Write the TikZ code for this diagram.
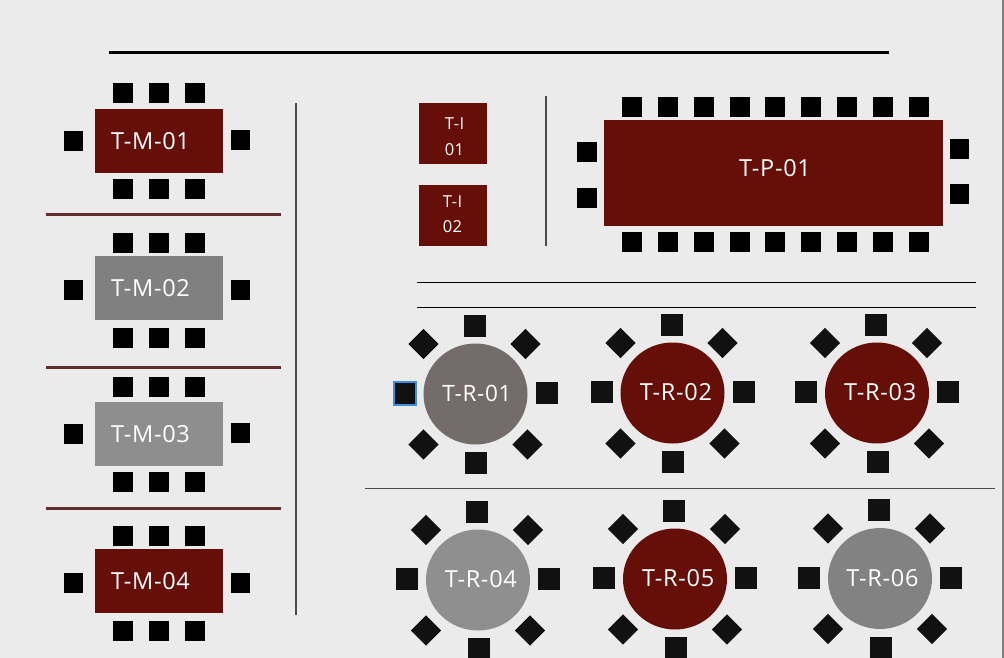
\documentclass[tikz,border=0pt]{standalone}
\usepackage{fontspec}
\setmainfont[LetterSpace=3]{Open Sans}
\usetikzlibrary{shapes.geometric}
\definecolor{bgc}{HTML}{EBEBEB}
\definecolor{wine}{HTML}{660F09}
\definecolor{sep}{HTML}{5F2E2E}
\definecolor{seatc}{HTML}{111111}
\definecolor{selc}{HTML}{3F8FE0}
\definecolor{greyA}{HTML}{808080}
\definecolor{greyB}{HTML}{8E8E8E}
\definecolor{greyC}{HTML}{736C6B}
\definecolor{greyD}{HTML}{8F8F8F}
\definecolor{greyE}{HTML}{828282}
\tikzset{
  x=1pt,y=-1pt,
  seat/.style={fill=black,draw=none,minimum width=19.5pt,minimum height=20pt,inner sep=0pt,outer sep=0pt},
  rseat/.style={fill=seatc,draw=none,minimum width=22pt,minimum height=22pt,inner sep=0pt,outer sep=0pt},
  dseat/.style={rseat,minimum width=21.5pt,minimum height=21.5pt,rotate=45},
  tbl/.style={draw=none,inner sep=0pt,outer sep=0pt,text=white},
  lbl/.style={text=white,font=\fontsize{23.5}{23.5}\selectfont,inner sep=0pt},
  slbl/.style={text=white,font=\fontsize{16.5}{16.5}\selectfont,inner sep=0pt},
  rline/.style={line width=3pt,draw=sep},
  vline/.style={line width=1.2pt,draw=black!70},
  hline/.style={line width=1pt,draw=black},
}
\newcommand{\rtable}[7]{% id, y top, colour, left seat y, right seat y, top seat y, bottom seat y
  \node[tbl,fill=#3,minimum width=128.5pt,minimum height=64pt] (tm#1) at (159,#2+32) {};
  \node[lbl] (tml#1) at (150.5,#2+32) {T-M-0#1};
  \foreach \sx/\sn in {123.2/a,159/b,195.2/c}{
    \node[seat] (s#1t\sn) at (\sx,#6) {};
    \node[seat] (s#1b\sn) at (\sx,#7) {};
  }
  \node[seat] (s#1l) at (73.5,#4) {};
  \node[seat] (s#1r) at (240.5,#5) {};
}
\newcommand{\rnd}[6]{% id, cx, cy, colour, label font size, label x offset
  \node[tbl,fill=#4,ellipse,minimum width=104pt,minimum height=101pt] (tr#1) at (#2,#3) {};
  \node[lbl,font=\fontsize{#5}{#5}\selectfont] (trl#1) at (#2+#6,#3-.5) {T-R-0#1};
  \node[rseat] (r#1t) at (#2-1,#3-68.5) {};
  \node[rseat] (r#1b) at (#2+.5,#3+69) {};
  \node[rseat] (r#1l) at (#2-71,#3-1) {};
  \node[rseat] (r#1r) at (#2+71,#3-1) {};
  \node[dseat] (r#1tl) at (#2-52,#3-50) {};
  \node[dseat] (r#1tr) at (#2+50,#3-50) {};
  \node[dseat] (r#1bl) at (#2-52,#3+50.5) {};
  \node[dseat] (r#1br) at (#2+52,#3+50.5) {};
}
\begin{document}
\begin{tikzpicture}
\useasboundingbox (0,0) rectangle (1004,658);
\fill[bgc] (0,0) rectangle (1004,658);
\fill[black!50] (1002,0) rectangle (1004,658);
% separators
\coordinate (ta) at (109,52.5); \coordinate (tb) at (889,52.5);
\draw[line width=3pt,black] (ta) -- (tb);
\foreach \yy in {214.5,367.5,508}{
  \draw[rline] (46,\yy) -- (281,\yy);
}
\draw[vline] (296,103) -- (296,615);
\draw[vline] (546,96) -- (546,246);
\draw[hline] (417,282.5) -- (976,282.5);
\draw[hline] (417,307.5) -- (976,307.5);
\draw[vline] (365,488.5) -- (995,488.5);
% rectangular tables
\rtable{1}{109}{wine}{141}{140}{93.3}{188.7}
\rtable{2}{256}{greyA}{290}{289.5}{243}{338}
\rtable{3}{402}{greyB}{434}{433}{387}{482}
\rtable{4}{549}{wine}{583}{582.5}{536}{631}
% small tables
\node[tbl,fill=wine,minimum width=68pt,minimum height=61pt] (ti1) at (453,134) {};
\node[slbl] (ti1a) at (454.5,124) {T-I};
\node[slbl] (ti1b) at (454.5,150) {01};
\node[tbl,fill=wine,minimum width=68pt,minimum height=61pt] (ti2) at (453,215.5) {};
\node[slbl] (ti2a) at (452.5,202) {T-I};
\node[slbl] (ti2b) at (452.5,227) {02};
% big table
\node[tbl,fill=wine,minimum width=339pt,minimum height=106pt] (tp) at (773.5,173) {};
\node[lbl] (tpl) at (775,168) {T-P-01};
\foreach \sx [count=\i] in {632,668,704,740,775,811,847,883,919}{
  \node[seat] (pt\i) at (\sx,107) {};
  \node[seat] (pb\i) at (\sx,242) {};
}
\node[seat] (pl1) at (587,152) {};
\node[seat] (pl2) at (587,198) {};
\node[seat] (pr1) at (959.5,149) {};
\node[seat] (pr2) at (959.5,194) {};
% round tables
\rnd{1}{475.5}{394}{greyC}{22.5}{1.5}
\rnd{2}{672.5}{393}{wine}{23.5}{3.5}
\rnd{3}{877}{393}{wine}{23.5}{3.2}
\rnd{4}{478}{580}{greyD}{23.5}{2.8}
\rnd{5}{675}{579}{wine}{23.5}{3.2}
\rnd{6}{880}{578.5}{greyE}{23.5}{2.5}
\node[draw=selc,line width=2pt,fill=none,minimum width=22.5pt,minimum height=23pt,inner sep=0pt] (sel) at (405,393) {};
\end{tikzpicture}
\end{document}
